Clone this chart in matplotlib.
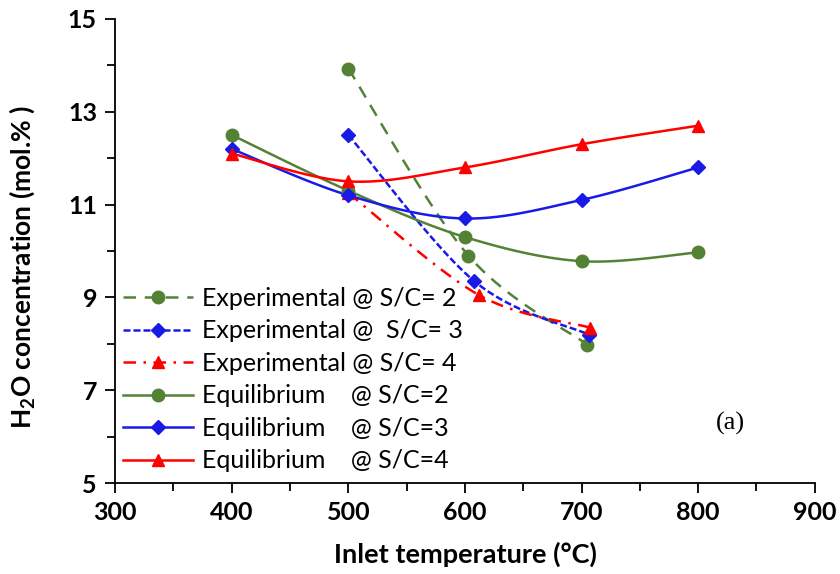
import numpy as np
import matplotlib.pyplot as plt
from matplotlib.lines import Line2D

# data
exp2_t = [500, 603, 705]
exp2_h2o = [13.93, 9.9, 7.98]
exp3_t = [500, 608, 706]
exp3_h2o = [12.5, 9.35, 8.2]
exp4_t = [500, 612, 707]
exp4_h2o = [11.25, 9.05, 8.35]

eq_t = [400, 500, 600, 700, 800]
eq2_h2o = [12.5, 11.3, 10.3, 9.78, 9.97]
eq3_h2o = [12.2, 11.2, 10.7, 11.1, 11.8]
eq4_h2o = [12.1, 11.5, 11.8, 12.3, 12.7]

x_ticks = [300, 400, 500, 600, 700, 800, 900]
y_ticks = [5, 7, 9, 11, 13, 15]

labels = ['Experimental @ S/C= 2', 'Experimental @  S/C= 3', 'Experimental @ S/C= 4',
          'Equilibrium    @ S/C=2', 'Equilibrium    @ S/C=3', 'Equilibrium    @ S/C=4']

GREEN = '#548235'
BLUE = '#1a1ae6'
RED = '#ff0000'

plt.rcParams['font.family'] = ['Lato', 'DejaVu Sans']
plt.rcParams['mathtext.fontset'] = 'custom'
plt.rcParams['mathtext.bf'] = 'Lato:bold'
plt.rcParams['mathtext.rm'] = 'Lato'


# Excel-style smoothed line (Bezier through the points)
def smooth(x, y, n=30):
    x = np.asarray(x, float)
    y = np.asarray(y, float)
    px, py = [], []
    for i in range(len(x) - 1):
        x0, y0 = (x[i - 1], y[i - 1]) if i > 0 else (x[i], y[i])
        x3, y3 = (x[i + 2], y[i + 2]) if i + 2 < len(x) else (x[i + 1], y[i + 1])
        c1x = x[i] + (x[i + 1] - x0) / 6
        c1y = y[i] + (y[i + 1] - y0) / 6
        c2x = x[i + 1] - (x3 - x[i]) / 6
        c2y = y[i + 1] - (y3 - y[i]) / 6
        t = np.linspace(0, 1, n)
        b0, b1, b2, b3 = (1 - t) ** 3, 3 * t * (1 - t) ** 2, 3 * t ** 2 * (1 - t), t ** 3
        px.extend(b0 * x[i] + b1 * c1x + b2 * c2x + b3 * x[i + 1])
        py.extend(b0 * y[i] + b1 * c1y + b2 * c2y + b3 * y[i + 1])
    return px, py


fig = plt.figure(figsize=(8.4, 5.74), dpi=100)
ax = fig.add_axes([0.137, 0.1585, 0.833, 0.8085])

series = [
    (exp2_t, exp2_h2o, GREEN, (0, (5, 3.5)), 'o', 9),
    (exp3_t, exp3_h2o, BLUE, (0, (2.8, 1.2)), 'D', 7),
    (exp4_t, exp4_h2o, RED, (0, (5, 3, 1, 3)), '^', 9),
    (eq_t, eq2_h2o, GREEN, '-', 'o', 9),
    (eq_t, eq3_h2o, BLUE, '-', 'D', 7),
    (eq_t, eq4_h2o, RED, '-', '^', 9),
]

handles = []
for (x, y, c, ls, m, ms), lab in zip(series, labels):
    sx, sy = smooth(x, y)
    ax.plot(sx, sy, color=c, linestyle=ls, linewidth=1.8, zorder=2)
    ax.plot(x, y, linestyle='none', marker=m, markersize=ms, color=c, zorder=3)
    handles.append(Line2D([], [], color=c, linestyle=ls, linewidth=1.8, marker=m, markersize=ms, label=lab))

ax.set_xlim(300, 900)
ax.set_ylim(5, 15)
ax.set_xticks(x_ticks, labels=[str(v) for v in x_ticks], fontweight='bold', fontsize=18)
ax.set_xticks(np.arange(350, 900, 100), minor=True)
ax.set_yticks(y_ticks, labels=[str(v) for v in y_ticks], fontweight='bold', fontsize=18)
ax.set_yticks(np.arange(6, 15, 2), minor=True)
ax.tick_params(axis='both', which='both', direction='out', width=1.3)
ax.tick_params(which='major', length=7, pad=6)
ax.tick_params(which='minor', length=6)

for s in ['top', 'right']:
    ax.spines[s].set_visible(False)
for s in ['left', 'bottom']:
    ax.spines[s].set_linewidth(1.3)

ax.set_xlabel('Inlet temperature (°C)', fontsize=19.5, fontweight='bold', labelpad=13)
ax.set_ylabel(r'H$_\mathbf{2}$O concentration (mol.% )', fontsize=19, fontweight='bold')
ax.yaxis.set_label_coords(-0.111, 0.466)

ax.legend(handles=handles, loc='lower left', bbox_to_anchor=(0.011, 0.023), frameon=False,
          fontsize=18, handlelength=2.8, labelspacing=0.38, handletextpad=0.35,
          borderpad=0, borderaxespad=0)

ax.text(0.858, 0.115, '(a)', transform=ax.transAxes, fontsize=19, family='Liberation Serif')

fig.savefig('out.png', dpi=100)
